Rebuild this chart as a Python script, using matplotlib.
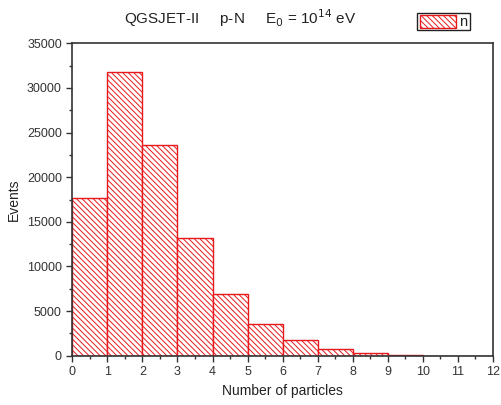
import matplotlib
matplotlib.use("Agg")
import matplotlib.pyplot as plt
from matplotlib.patches import Rectangle
from matplotlib.ticker import MultipleLocator

plt.rcParams['font.family'] = ['Liberation Sans', 'DejaVu Sans']
plt.rcParams['hatch.color'] = '#e8191c'
plt.rcParams['hatch.linewidth'] = 0.7

HATCH = '\\' * 6

# Multiplicity distribution: bin left edges and event counts
bin_edges = [0, 1, 2, 3, 4, 5, 6, 7, 8, 9, 10, 11]
counts = [17650, 31780, 23560, 13170, 6930, 3590, 1730, 720, 350, 100, 0, 0]

fig = plt.figure(figsize=(5.01, 4.05), dpi=100)
ax = fig.add_axes([0.1443, 0.1217, 0.8397, 0.7713])

ax.bar(bin_edges, counts, width=1.0, align='edge', facecolor='white',
       edgecolor='#e8191c', hatch=HATCH, linewidth=1.0)

ax.set_xlim(0, 12)
ax.set_ylim(0, 35000)
ax.xaxis.set_major_locator(MultipleLocator(1))
ax.xaxis.set_minor_locator(MultipleLocator(0.5))
ax.yaxis.set_major_locator(MultipleLocator(5000))
ax.yaxis.set_minor_locator(MultipleLocator(2500))
ax.tick_params(which='both', direction='out', colors='#333333', labelsize=9,
               top=False, right=False)
ax.tick_params(which='major', length=4, width=1.0)
ax.tick_params(which='minor', length=2.5, width=1.0)
for s in ax.spines.values():
    s.set_color('#333333')
    s.set_linewidth(1.2)

ax.set_xlabel('Number of particles', fontsize=10, color='#222222', labelpad=4)
ax.set_ylabel('Events', fontsize=10, color='#222222', labelpad=4)

fig.text(0.479, 0.955, r'QGSJET-II     p-N     E$_0$ = 10$^{14}$ eV',
         ha='center', va='center', fontsize=11, color='#222222')

# legend box
lx0, ly0, lw, lh = 417 / 501, 1 - 30 / 405, 53 / 501, 17 / 405
fig.patches.append(Rectangle((lx0, ly0), lw, lh, transform=fig.transFigure,
                             facecolor='white', edgecolor='#222222', linewidth=1.0))
fig.patches.append(Rectangle((lx0 + 3 / 501, ly0 + 2.5 / 405), 36 / 501, 12 / 405,
                             transform=fig.transFigure, facecolor='white',
                             edgecolor='#e8191c', hatch=HATCH, linewidth=1.0))
fig.text(lx0 + 42 / 501, ly0 + lh / 2, 'n', ha='left', va='center',
         fontsize=10.5, color='#222222')

fig.savefig('out.png', dpi=100)
